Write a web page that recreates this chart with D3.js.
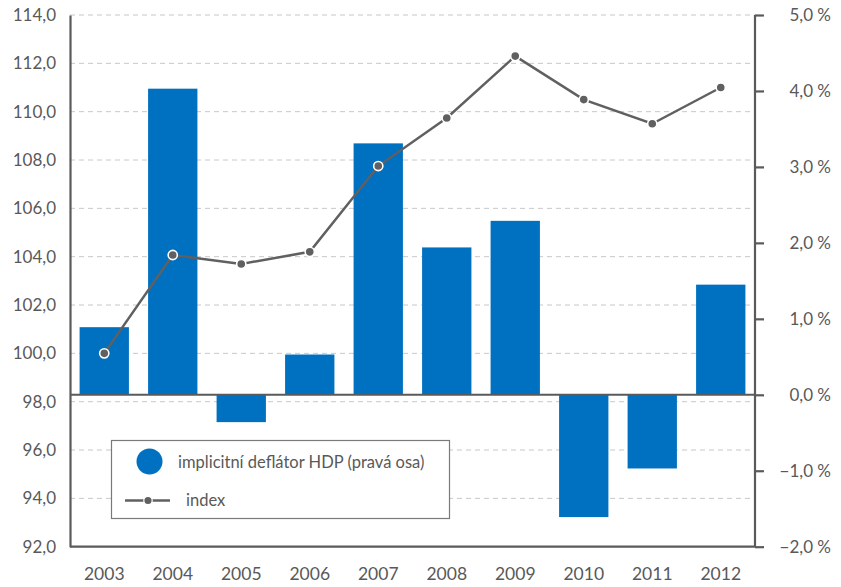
<!DOCTYPE html>
<html>
<head>
<meta charset="utf-8">
<script src="https://cdn.jsdelivr.net/npm/d3@7"></script>
<style>
  html, body { margin: 0; padding: 0; background: #fff; }
  text { font-family: Lato, "Open Sans", sans-serif; fill: #595959; }
</style>
</head>
<body>
<svg id="chart" width="841" height="587"></svg>
<script>
const years = ["2003","2004","2005","2006","2007","2008","2009","2010","2011","2012"];
const deflator = [0.89, 4.03, -0.36, 0.53, 3.31, 1.94, 2.29, -1.61, -0.97, 1.45];
const indexVals = [100.0, 104.07, 103.7, 104.2, 107.75, 109.74, 112.3, 110.5, 109.5, 111.0];
const leftTicks = [92, 94, 96, 98, 100, 102, 104, 106, 108, 110, 112, 114];
const rightTicks = [-2, -1, 0, 1, 2, 3, 4, 5];
const legendLabels = ["implicitní deflátor HDP (pravá osa)", "index"];

const svg = d3.select("#chart");
const L = 70, R = 755, T = 15, B = 546.7;
const axisColor = "#5a5a5a";

const x = d3.scaleBand().domain(years).range([L, R]).paddingInner(0.28).paddingOuter(0.14);
const yL = d3.scaleLinear().domain([92, 114]).range([B, T]);
const yR = d3.scaleLinear().domain([-2, 5]).range([B, T]);

// gridlines (left axis ticks)
svg.append("g").selectAll("line").data(leftTicks.filter(d => d !== 92)).join("line")
  .attr("x1", L).attr("x2", R)
  .attr("y1", d => yL(d)).attr("y2", d => yL(d))
  .attr("stroke", "#c8c8c8").attr("stroke-width", 1).attr("stroke-dasharray", "5,4");

// bars
svg.append("g").selectAll("rect").data(years).join("rect")
  .attr("x", d => x(d))
  .attr("width", x.bandwidth())
  .attr("y", (d, i) => yR(Math.max(0, deflator[i])))
  .attr("height", (d, i) => Math.abs(yR(deflator[i]) - yR(0)))
  .attr("fill", "#0070c0");

// zero line
svg.append("line").attr("x1", L).attr("x2", R).attr("y1", yR(0)).attr("y2", yR(0))
  .attr("stroke", axisColor).attr("stroke-width", 2);

// left axis
const gL = svg.append("g").attr("transform", `translate(${L},0)`)
  .call(d3.axisLeft(yL).tickValues(leftTicks).tickSize(0).tickPadding(14)
    .tickFormat(d => d3.format(".1f")(d).replace(".", ",")));
gL.select(".domain").attr("stroke", axisColor).attr("stroke-width", 2.2);
gL.selectAll("text").style("font-size", "17px").attr("fill", "#595959");

// right axis
const gR = svg.append("g").attr("transform", `translate(${R},0)`)
  .call(d3.axisRight(yR).tickValues(rightTicks).tickSize(9).tickPadding(0)
    .tickFormat(d => (d < 0 ? "\u2212" : "") + d3.format(".1f")(Math.abs(d)).replace(".", ",") + " %"));
gR.select(".domain").attr("stroke", axisColor).attr("stroke-width", 2.2).attr("d", `M0,${T}V${B}`);
gR.selectAll(".tick line").attr("stroke", axisColor).attr("stroke-width", 2.2);
gR.selectAll("text").style("font-size", "17px").attr("text-anchor", "end").attr("x", 76).attr("fill", "#595959");

// bottom axis
const gB = svg.append("g").attr("transform", `translate(0,${B})`)
  .call(d3.axisBottom(x).tickSize(0).tickPadding(21));
gB.select(".domain").attr("stroke", axisColor).attr("stroke-width", 2.2).attr("d", `M${L},0H${R}`);
gB.selectAll("text").style("font-size", "17.5px").attr("fill", "#595959");

// line
const line = d3.line().x((d, i) => x(years[i]) + x.bandwidth() / 2).y(d => yL(d));
svg.append("path").datum(indexVals).attr("d", line)
  .attr("fill", "none").attr("stroke", "#606060").attr("stroke-width", 2.5);
svg.append("g").selectAll("circle").data(indexVals).join("circle")
  .attr("cx", (d, i) => x(years[i]) + x.bandwidth() / 2)
  .attr("cy", d => yL(d))
  .attr("r", 4.6)
  .attr("fill", "#606060").attr("stroke", "#fff").attr("stroke-width", 1.6);

// legend
const lg = svg.append("g");
lg.append("rect").attr("x", 111.5).attr("y", 440.5).attr("width", 338).attr("height", 78)
  .attr("fill", "#fff").attr("stroke", "#7a7a7a").attr("stroke-width", 1.2);
lg.append("circle").attr("cx", 149.5).attr("cy", 461.5).attr("r", 13).attr("fill", "#0070c0");
lg.append("text").attr("x", 178).attr("y", 467.5).text(legendLabels[0]).style("font-size", "16.5px");
lg.append("line").attr("x1", 125).attr("x2", 170).attr("y1", 500.5).attr("y2", 500.5)
  .attr("stroke", "#606060").attr("stroke-width", 2.5);
lg.append("circle").attr("cx", 148).attr("cy", 500.5).attr("r", 4.2)
  .attr("fill", "#606060").attr("stroke", "#fff").attr("stroke-width", 1.2);
lg.append("text").attr("x", 186).attr("y", 506).text(legendLabels[1]).style("font-size", "16.5px");
</script>
</body>
</html>
